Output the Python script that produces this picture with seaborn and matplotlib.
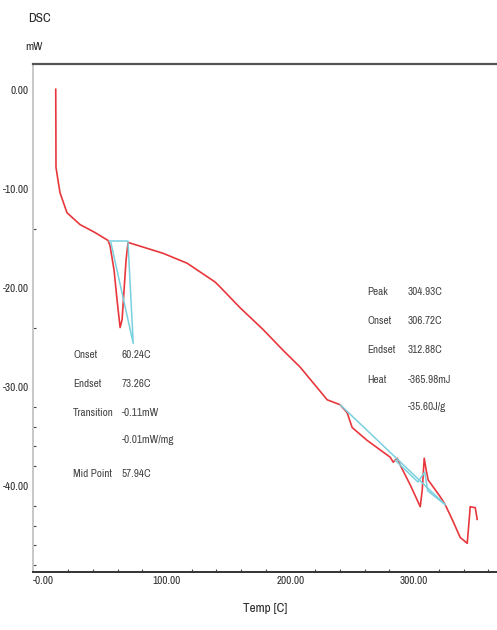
import numpy as np
import pandas as pd
import matplotlib
matplotlib.use("Agg")
import matplotlib.pyplot as plt
from matplotlib import font_manager as fm
from matplotlib.ticker import MultipleLocator, FixedLocator
import seaborn as sns

# DSC curve
temp = [9.9, 10.0, 10.1, 11.7, 13.4, 19.0, 29.6, 41.7, 52.2, 53.8, 57.1, 59.5, 62.0,
        63.6, 65.2, 66.8, 68.4, 96.8, 116.2, 138.9, 142.9, 159.1, 177.7, 193.9, 207.7,
        229.6, 240.1, 245.7, 249.8, 261.9, 280.6, 283.0, 286.2, 288.7, 296.8, 304.9,
        306.5, 308.1, 309.7, 311.3, 321.1, 325.1, 330.8, 337.2, 342.9, 344.5, 345.3,
        349.4, 351.0]
dsc = [0.1, -3.0, -7.8, -9.1, -10.4, -12.4, -13.6, -14.4, -15.2, -15.7, -18.2, -21.2, -24.0,
       -23.2, -20.2, -17.2, -15.4, -16.5, -17.5, -19.4, -19.9, -22.0, -24.2, -26.3, -28.0,
       -31.3, -31.8, -32.6, -34.1, -35.4, -37.1, -37.6, -37.2, -37.9, -39.9, -42.1,
       -40.4, -37.2, -38.4, -39.4, -41.1, -41.9, -43.4, -45.2, -45.8, -43.4, -42.1,
       -42.2, -43.4]

# analysis construction lines (cyan)
base1_t = [53.0, 68.4]
base1_v = [-15.3, -15.3]
tan1_t = [54.5, 72.6, 68.4]
tan1_v = [-15.4, -25.6, -15.4]
base2_t = [240.1, 325.1]
base2_v = [-31.8, -41.9]
peak2_t = [284.6, 303.0, 308.5, 311.0, 325.1]
peak2_v = [-37.4, -39.6, -38.6, -40.5, -41.9]

left_labels = ["Onset", "Endset", "Transition", "", "Mid Point"]
left_values = ["60.24C", "73.26C", "-0.11mW", "-0.01mW/mg", "57.94C"]
right_labels = ["Peak", "Onset", "Endset", "Heat", ""]
right_values = ["304.93C", "306.72C", "312.88C", "-365.98mJ", "-35.60J/g"]

sns.set_style("white")

# pick a narrow face if there is one, the original uses a condensed font
narrow = None
for f in fm.fontManager.ttflist:
    if "Narrow" in f.name or "Condensed" in f.name:
        narrow = f.name
        break
fams = [narrow, "Liberation Sans", "DejaVu Sans"] if narrow else ["Liberation Sans", "DejaVu Sans"]
plt.rcParams['font.family'] = fams
plt.rcParams['font.stretch'] = "condensed"
fs = 8 if narrow else 6.5

fig = plt.figure(figsize=(4.97, 6.30), dpi=100)
ax = fig.add_axes([0.0664, 0.092, 0.9336, 0.806])

red = "#e8373c"
cyan = "#79d0de"
df = pd.DataFrame({"temp": temp, "dsc": dsc})
sns.lineplot(data=df, x="temp", y="dsc", sort=False, color=red, lw=1.2, ax=ax)
for t, v in [(base1_t, base1_v), (tan1_t, tan1_v), (base2_t, base2_v), (peak2_t, peak2_v)]:
    sns.lineplot(x=t, y=v, sort=False, color=cyan, lw=1.1, ax=ax)

ax.set_xlim(-8.5, 367)
ax.set_ylim(-48.7, 2.6)
ax.set_xticks([0, 100, 200, 300])
ax.set_xticklabels(["-0.00", "100.00", "200.00", "300.00"])
ax.set_yticks([0, -10, -20, -30, -40])
ax.set_yticklabels(["0.00", "-10.00", "-20.00", "-30.00", "-40.00"])
ax.xaxis.set_minor_locator(MultipleLocator(20))
ax.yaxis.set_minor_locator(FixedLocator([-14, -24, -32, -34, -36, -38, -42, -44, -46, -48]))
ax.tick_params(axis="both", which="major", labelsize=fs, direction="inout", length=4,
               width=0.8, color="#444444", labelcolor="#2a2a2a", pad=1)
ax.tick_params(axis="both", which="minor", direction="in", length=2, width=0.8,
               color="#444444", bottom=True, left=True)
ax.set_xlabel("Temp [C]", fontsize=fs + 1.5, color="#2a2a2a", labelpad=12)
ax.set_ylabel("")

ax.spines["right"].set_visible(False)
ax.spines["top"].set_color("#555555")
ax.spines["top"].set_linewidth(1.6)
ax.spines["bottom"].set_color("#333333")
ax.spines["bottom"].set_linewidth(1.4)
ax.spines["left"].set_color("#c8c8c8")
ax.spines["left"].set_linewidth(1.4)

fig.text(0.056, 0.970, "DSC", fontsize=fs + 1.5, color="#2a2a2a", va="center")
fig.text(0.050, 0.925, "mW", fontsize=fs + 0.5, color="#2a2a2a", va="center")

# annotation blocks
rows_left = [355, 384, 413, 440, 474]
for lab, val, py in zip(left_labels, left_values, rows_left):
    fig.text(73 / 497, 1 - py / 630, lab, fontsize=fs, color="#444444", va="center")
    fig.text(122 / 497, 1 - py / 630, val, fontsize=fs, color="#444444", va="center")
rows_right = [292, 321, 350, 380, 407]
for lab, val, py in zip(right_labels, right_values, rows_right):
    fig.text(367 / 497, 1 - py / 630, lab, fontsize=fs, color="#444444", va="center")
    fig.text(408 / 497, 1 - py / 630, val, fontsize=fs, color="#444444", va="center")

fig.savefig("out.png", dpi=100)
